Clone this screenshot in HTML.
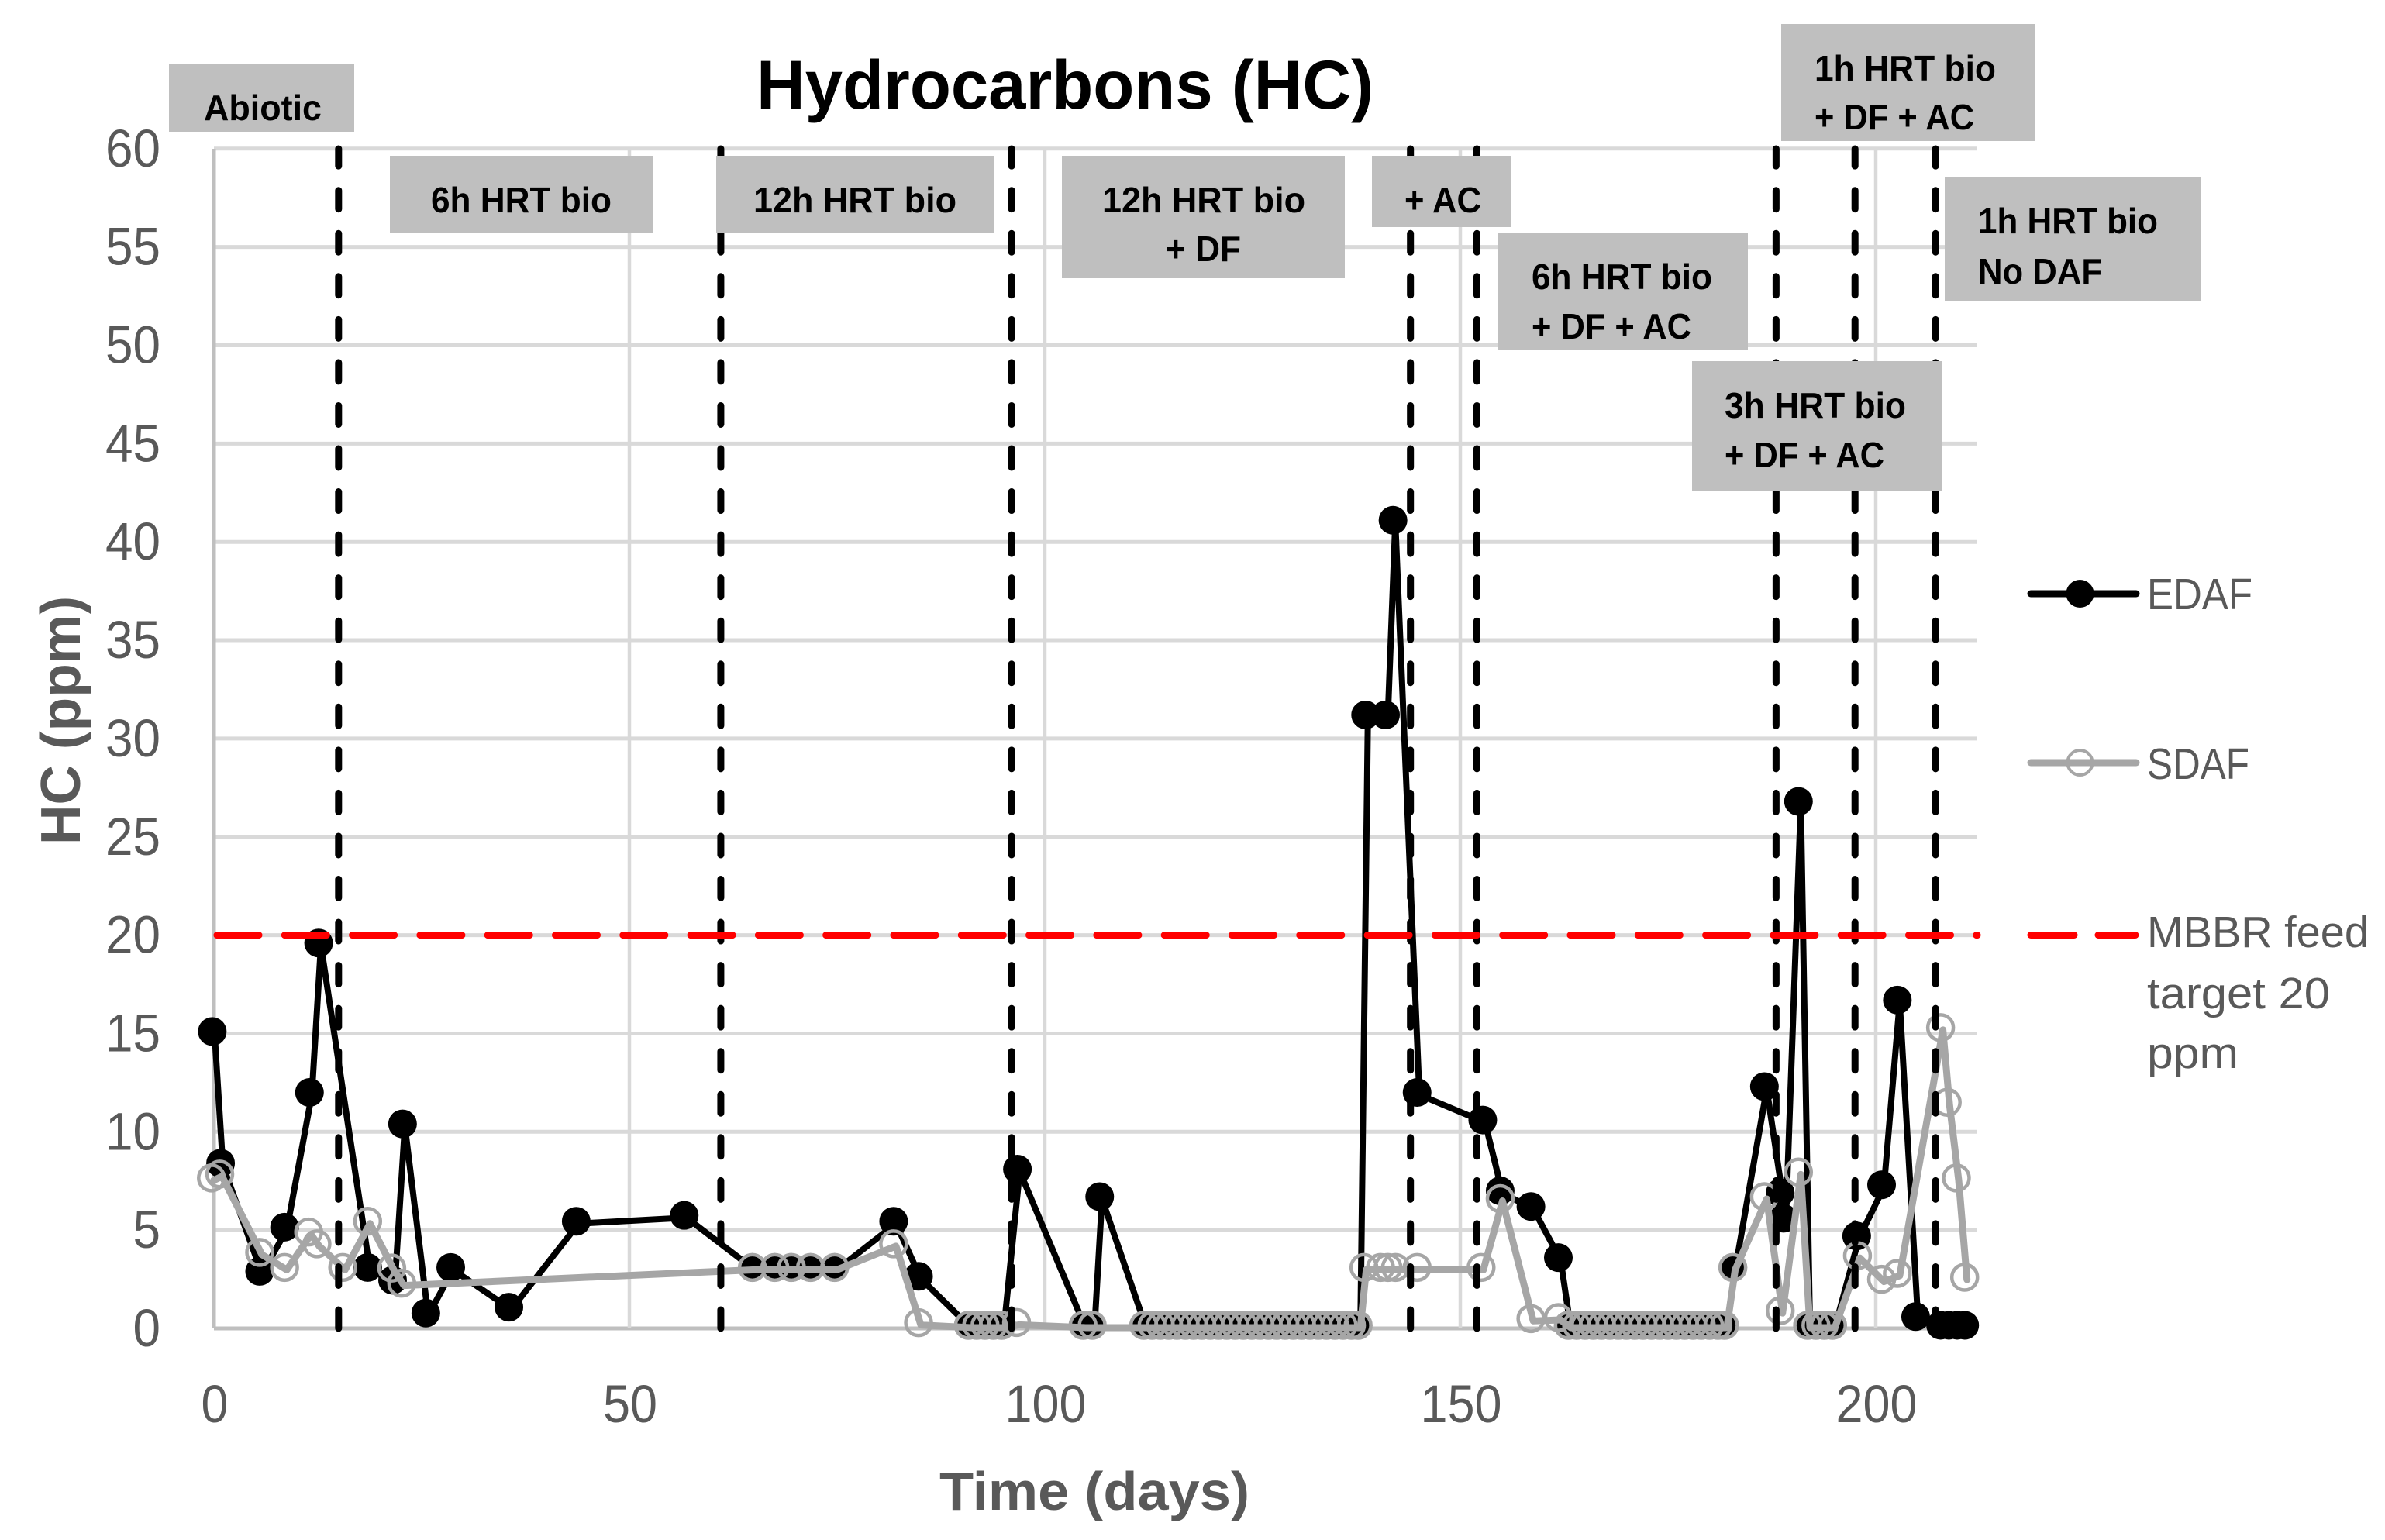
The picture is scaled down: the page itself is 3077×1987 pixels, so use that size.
<!DOCTYPE html>
<html lang="en">
<head>
<meta charset="utf-8">
<title>Hydrocarbons (HC)</title>
<style>
html,body{margin:0;padding:0;background:#fff;}
svg{display:block;font-family:"Liberation Sans",sans-serif;}
.box-label{font-weight:700;font-size:46px;fill:#000;}
.legend-text{font-size:57px;fill:#595959;}
</style>
</head>
<body>
<svg id="chart" xmlns="http://www.w3.org/2000/svg" width="3077" height="1987" viewBox="0 0 3077 1987">
  <rect x="0" y="0" width="3077" height="1987" fill="#fff"/>
  <g id="grid"></g>
  <g id="ticks"></g>
  <g id="series"></g>
  <g id="phases"></g>
  <g id="target"></g>

  <text x="976" y="140" font-size="89" font-weight="700" fill="#000" textLength="796" lengthAdjust="spacingAndGlyphs">Hydrocarbons (HC)</text>
  <text x="1212" y="1948" font-size="70" font-weight="700" fill="#595959" textLength="400" lengthAdjust="spacingAndGlyphs">Time (days)</text>
  <text transform="translate(103,1090) rotate(-90)" x="0" y="0" font-size="72" font-weight="700" fill="#595959" textLength="321" lengthAdjust="spacingAndGlyphs">HC (ppm)</text>

  <g>
    <rect x="218" y="82" width="239" height="88" fill="#bfbfbf"/>
    <text class="box-label" x="263" y="155" textLength="152" lengthAdjust="spacingAndGlyphs">Abiotic</text>
  </g>
  <g>
    <rect x="503" y="201" width="339" height="100" fill="#bfbfbf"/>
    <text class="box-label" x="556" y="274" textLength="233" lengthAdjust="spacingAndGlyphs">6h HRT bio</text>
  </g>
  <g>
    <rect x="924" y="201" width="358" height="100" fill="#bfbfbf"/>
    <text class="box-label" x="972" y="274" textLength="262" lengthAdjust="spacingAndGlyphs">12h HRT bio</text>
  </g>
  <g>
    <rect x="1370" y="201" width="365" height="158" fill="#bfbfbf"/>
    <text class="box-label" x="1422" y="274" textLength="262" lengthAdjust="spacingAndGlyphs">12h HRT bio</text>
    <text class="box-label" x="1504" y="337" textLength="97" lengthAdjust="spacingAndGlyphs">+ DF</text>
  </g>
  <g>
    <rect x="1770" y="201" width="180" height="92" fill="#bfbfbf"/>
    <text class="box-label" x="1812" y="274" textLength="99" lengthAdjust="spacingAndGlyphs">+ AC</text>
  </g>
  <g>
    <rect x="1933" y="300" width="322" height="151" fill="#bfbfbf"/>
    <text class="box-label" x="1976" y="373" textLength="233" lengthAdjust="spacingAndGlyphs">6h HRT bio</text>
    <text class="box-label" x="1976" y="437" textLength="206" lengthAdjust="spacingAndGlyphs">+ DF + AC</text>
  </g>
  <g>
    <rect x="2183" y="466" width="323" height="167" fill="#bfbfbf"/>
    <text class="box-label" x="2225" y="539" textLength="234" lengthAdjust="spacingAndGlyphs">3h HRT bio</text>
    <text class="box-label" x="2225" y="603" textLength="206" lengthAdjust="spacingAndGlyphs">+ DF + AC</text>
  </g>
  <g>
    <rect x="2298" y="31" width="327" height="151" fill="#bfbfbf"/>
    <text class="box-label" x="2341" y="104" textLength="234" lengthAdjust="spacingAndGlyphs">1h HRT bio</text>
    <text class="box-label" x="2341" y="167" textLength="206" lengthAdjust="spacingAndGlyphs">+ DF + AC</text>
  </g>
  <g>
    <rect x="2509" y="228" width="330" height="160" fill="#bfbfbf"/>
    <text class="box-label" x="2552" y="301" textLength="232" lengthAdjust="spacingAndGlyphs">1h HRT bio</text>
    <text class="box-label" x="2552" y="366" textLength="160" lengthAdjust="spacingAndGlyphs">No DAF</text>
  </g>

  <g>
    <line x1="2620" y1="766" x2="2756" y2="766" stroke="#000" stroke-width="9" stroke-linecap="round"/>
    <circle cx="2683.5" cy="766" r="18" fill="#000"/>
    <text class="legend-text" x="2770" y="786" textLength="136" lengthAdjust="spacingAndGlyphs">EDAF</text>
  </g>
  <g>
    <line x1="2620" y1="984" x2="2756" y2="984" stroke="#a6a6a6" stroke-width="9" stroke-linecap="round"/>
    <circle cx="2683.5" cy="984" r="16" fill="none" stroke="#a6a6a6" stroke-width="4"/>
    <text class="legend-text" x="2770" y="1005" textLength="132" lengthAdjust="spacingAndGlyphs">SDAF</text>
  </g>
  <g>
    <line x1="2620" y1="1206.5" x2="2676" y2="1206.5" stroke="#ff0000" stroke-width="9" stroke-linecap="round"/>
    <line x1="2707" y1="1206.5" x2="2755" y2="1206.5" stroke="#ff0000" stroke-width="9" stroke-linecap="round"/>
    <text class="legend-text" x="2770" y="1222" textLength="286" lengthAdjust="spacingAndGlyphs">MBBR feed</text>
    <text class="legend-text" x="2770" y="1301" textLength="236" lengthAdjust="spacingAndGlyphs">target 20</text>
    <text class="legend-text" x="2770" y="1378" textLength="118" lengthAdjust="spacingAndGlyphs">ppm</text>
  </g>
</svg>
<script>
var yTicks = [0,5,10,15,20,25,30,35,40,45,50,55,60];
var xTicks = [0,50,100,150,200];
var phaseDays = [15,61,96,144,152,188,197.5,207.2];
var targetValue = 20;

var edafDays = [-0.2,0.8,5.5,8.5,11.5,12.6,18.5,21.5,22.7,25.5,28.5,35.5,43.6,56.6,64.8,67.5,69.5,71.8,74.7,81.8,84.8,
  90.8,91.8,92.8,93.8,94.8,96.7,104.6,105.7,106.6,
  111.9,112.9,113.9,114.9,115.9,116.9,117.9,118.9,119.9,120.9,121.9,122.9,123.9,124.9,125.9,126.9,127.9,128.9,129.9,130.9,131.9,132.9,133.9,134.9,135.9,136.9,137.7,
  138.6,141,141.9,144.8,152.7,154.8,158.5,161.8,
  163,164,165,166,167,168,169,170,171,172,173,174,175,176,177,178,179,180,181,181.8,
  182.8,186.6,188.5,188.9,190.7,191.8,192.8,193.8,194.8,197.7,200.7,202.6,204.8,207.8,208.8,209.8,210.7];
var edafValues = [15.1,8.4,2.9,5.15,12,19.6,3.1,2.45,10.4,0.78,3.1,1.08,5.45,5.75,3.1,3.1,3.1,3.1,3.1,5.45,2.65,
  0.16,0.16,0.16,0.16,0.16,8.1,0.16,0.16,6.7,
  0.16,0.16,0.16,0.16,0.16,0.16,0.16,0.16,0.16,0.16,0.16,0.16,0.16,0.16,0.16,0.16,0.16,0.16,0.16,0.16,0.16,0.16,0.16,0.16,0.16,0.16,0.16,
  31.2,31.2,41.1,12,10.6,7,6.2,3.6,
  0.16,0.16,0.16,0.16,0.16,0.16,0.16,0.16,0.16,0.16,0.16,0.16,0.16,0.16,0.16,0.16,0.16,0.16,0.16,0.16,
  3.1,12.3,6.9,5.6,26.8,0.16,0.16,0.16,0.16,4.7,7.3,16.7,0.6,0.16,0.16,0.16,0.16];

var sdafDays = [-0.3,0.7,5.5,8.5,11.4,12.4,15.5,18.5,21.4,22.6,64.8,67.5,69.5,71.8,74.7,81.8,84.8,
  90.8,91.8,92.8,93.8,94.8,96.6,104.6,105.7,
  111.9,112.9,113.9,114.9,115.9,116.9,117.9,118.9,119.9,120.9,121.9,122.9,123.9,124.9,125.9,126.9,127.9,128.9,129.9,130.9,131.9,132.9,133.9,134.9,135.9,136.9,137.7,
  138.4,140.4,141.3,142.2,144.8,152.5,154.8,158.5,161.8,
  163,164,165,166,167,168,169,170,171,172,173,174,175,176,177,178,179,180,181,181.8,
  182.8,186.6,188.5,190.7,191.8,192.8,193.8,194.8,197.8,200.7,202.6,207.8,208.6,209.7,210.7];
var sdafValues = [7.65,7.85,3.87,3.1,4.9,4.3,3.1,5.45,3.07,2.3,3.1,3.1,3.1,3.1,3.1,4.3,0.29,
  0.16,0.16,0.16,0.16,0.16,0.3,0.16,0.16,
  0.16,0.16,0.16,0.16,0.16,0.16,0.16,0.16,0.16,0.16,0.16,0.16,0.16,0.16,0.16,0.16,0.16,0.16,0.16,0.16,0.16,0.16,0.16,0.16,0.16,0.16,0.16,
  3.1,3.1,3.1,3.1,3.1,3.1,6.6,0.5,0.55,
  0.16,0.16,0.16,0.16,0.16,0.16,0.16,0.16,0.16,0.16,0.16,0.16,0.16,0.16,0.16,0.16,0.16,0.16,0.16,0.16,
  3.1,6.7,0.9,7.95,0.16,0.16,0.16,0.16,3.7,2.5,2.8,15.3,11.5,7.65,2.6];

var NS = 'http://www.w3.org/2000/svg';
var plotLeft = 276, plotRight = 2551, plotTop = 192, plotBottom = 1714;
var pxPerDay = 10.72, pxPerUnit = 25.37;
function xAxis(d){ return plotLeft + d * pxPerDay; }
function yAxis(v){ return plotBottom - v * pxPerUnit; }
function make(tag, attrs, parent){
  var el = document.createElementNS(NS, tag);
  for (var k in attrs) el.setAttribute(k, attrs[k]);
  parent.appendChild(el);
  return el;
}
var grid = document.getElementById('grid');
var ticks = document.getElementById('ticks');
var seriesLayer = document.getElementById('series');
var phases = document.getElementById('phases');
var target = document.getElementById('target');

yTicks.forEach(function(t){
  var gl = make('line', {x1:plotLeft, x2:plotRight, y1:yAxis(t), y2:yAxis(t), stroke: t === 0 ? '#bfbfbf' : '#d9d9d9', 'stroke-width':5}, grid);
  
  
  var s = String(t);
  var lb = make('text', {x:207, y:yAxis(t)+23, 'text-anchor':'end', 'font-size':69, fill:'#595959', textLength:35.5*s.length, lengthAdjust:'spacingAndGlyphs'}, ticks);
  lb.textContent = s;
  
  
});
xTicks.forEach(function(t){
  var gl = make('line', {x1:xAxis(t), x2:xAxis(t), y1:plotTop, y2:plotBottom, stroke:'#d9d9d9', 'stroke-width':4.5}, grid);
  
  
  var s = String(t);
  var lb = make('text', {x:xAxis(t)+1, y:1835, 'text-anchor':'middle', 'font-size':69, fill:'#595959', textLength:35*s.length, lengthAdjust:'spacingAndGlyphs'}, ticks);
  lb.textContent = s;
  
  
});
var yAxisLine = make('line', {x1:plotLeft, x2:plotLeft, y1:plotTop, y2:plotBottom, stroke:'#bfbfbf', 'stroke-width':5}, grid);



function polyPoints(days, vals){
  return days.map(function(d, i){ return (xAxis(d)+3) + ',' + (yAxis(vals[i])+3); }).join(' ');
}
var edafLine = make('polyline', {points:polyPoints(edafDays, edafValues), fill:'none', stroke:'#000', 'stroke-width':8, 'stroke-linejoin':'round', 'stroke-linecap':'round'}, seriesLayer);


edafDays.forEach(function(d, i){
  var c = make('circle', {cx:xAxis(d), cy:yAxis(edafValues[i]), r:18.5, fill:'#000'}, seriesLayer);
  
  
});
var sdafLine = make('polyline', {points:polyPoints(sdafDays, sdafValues), fill:'none', stroke:'#a6a6a6', 'stroke-width':9, 'stroke-linejoin':'round', 'stroke-linecap':'round'}, seriesLayer);


sdafDays.forEach(function(d, i){
  var c = make('circle', {cx:xAxis(d), cy:yAxis(sdafValues[i]), r:16.5, fill:'none', stroke:'#a6a6a6', 'stroke-width':4.5}, seriesLayer);
  
  
});
phaseDays.forEach(function(d){
  var l = make('line', {x1:xAxis(d), x2:xAxis(d), y1:plotBottom, y2:plotTop, stroke:'#000', 'stroke-width':9, 'stroke-linecap':'round', 'stroke-dasharray':'24 31.55'}, phases);
  
  
});
var targetLine = make('line', {x1:plotLeft + 4, x2:plotRight, y1:yAxis(targetValue), y2:yAxis(targetValue), stroke:'#ff0000', 'stroke-width':9, 'stroke-linecap':'round', 'stroke-dasharray':'54 33.3'}, target);


</script>
</body>
</html>
